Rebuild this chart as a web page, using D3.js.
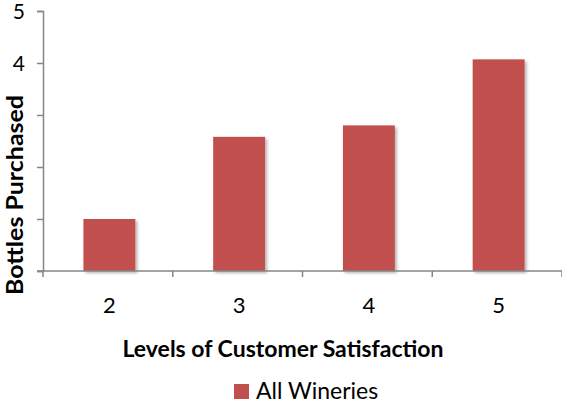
<!DOCTYPE html>
<html><head><meta charset="utf-8">
<script src="https://cdn.jsdelivr.net/npm/d3@7"></script>
<style>body{margin:0;background:#fff;} svg{display:block;font-family:Lato,"Open Sans",sans-serif;}</style>
</head><body><svg id="c" width="562" height="403"></svg>
<script>
const categories = ["2", "3", "4", "5"];
const values = [1.0, 2.58, 2.8, 4.07];
const yTicks = [0, 1, 2, 3, 4, 5];
const seriesName = "All Wineries";
const xTitle = "Levels of Customer Satisfaction";
const yTitle = "Bottles Purchased";

(function(){
const svg = d3.select("#c");
const mL = 43, mR = 562, mT = 11, mB = 271;
const x = d3.scaleBand().domain(categories).range([mL + 1.5, mR + 1.5]).paddingInner(0.6).paddingOuter(0.3);
const y = d3.scaleLinear().domain([0, 5]).range([mB, mT]);

const defs = svg.append("defs");
const f = defs.append("filter").attr("id","sh").attr("x","-20%").attr("y","-20%").attr("width","150%").attr("height","150%");
f.append("feDropShadow").attr("dx",2).attr("dy",2).attr("stdDeviation",1.5).attr("flood-color","#000").attr("flood-opacity",0.3);

svg.append("g").selectAll("rect").data(values).join("rect")
  .attr("x",(d,i)=>x(categories[i])).attr("width",x.bandwidth())
  .attr("y",d=>y(d)).attr("height",d=>y(0)-y(d))
  .attr("fill","#C0504D").attr("filter","url(#sh)");

// y axis
const ya = svg.append("g").attr("transform",`translate(${mL},0)`)
  .call(d3.axisLeft(y).tickValues(yTicks).tickSize(6).tickPadding(12).tickFormat(d3.format("d")));
ya.select(".domain").attr("stroke","#868686").attr("stroke-width",1.5);
ya.selectAll(".tick line").attr("stroke","#868686").attr("stroke-width",1.5);
ya.selectAll(".tick text").attr("font-size",21).attr("fill","#000").attr("font-family","Lato,sans-serif").attr("dy","0.36em");

// x axis with boundary ticks
const xa = svg.append("g").attr("transform",`translate(0,${mB})`);
xa.append("line").attr("x1",mL-6).attr("x2",mR).attr("stroke","#868686").attr("stroke-width",1.5);
const bounds = categories.map((c,i)=> mL + i*(mR-mL)/categories.length);
bounds.push(mR);
xa.selectAll("line.t").data(bounds).join("line").attr("class","t")
  .attr("x1",d=>d).attr("x2",d=>d).attr("y1",0).attr("y2",6).attr("stroke","#868686").attr("stroke-width",1.5);
xa.selectAll("text").data(categories).join("text")
  .attr("x",c=>x(c)+x.bandwidth()/2).attr("y",42).attr("text-anchor","middle")
  .attr("font-size",22).text(d=>d);

// x title
svg.append("text").attr("x",283).attr("y",357).attr("text-anchor","middle")
  .attr("font-size",23).attr("font-weight","bold").text(xTitle);

// y title with white backing (as in reference, it covers lower tick labels)
const yt = svg.append("g").attr("transform","translate(23,195) rotate(-90)");
yt.append("rect").attr("x",-103).attr("y",-23).attr("width",206).attr("height",34).attr("fill","#fff");
yt.append("text").attr("text-anchor","middle").attr("font-size",23).attr("font-weight","bold")
  .attr("textLength",200).attr("lengthAdjust","spacingAndGlyphs").text(yTitle);

// legend
const lg = svg.append("g");
lg.append("rect").attr("x",234).attr("y",384).attr("width",15).attr("height",15).attr("fill","#C0504D");
lg.append("text").attr("x",256).attr("y",399).attr("font-size",23).text(seriesName);
})();
</script></body></html>
